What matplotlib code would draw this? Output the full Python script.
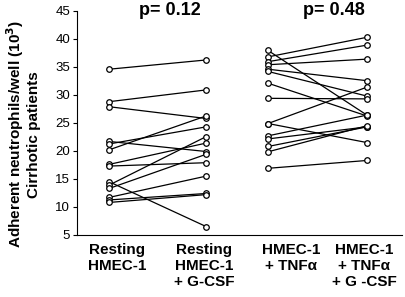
import matplotlib
matplotlib.use("Agg")
import matplotlib.pyplot as plt

plt.rcParams['font.family'] = ['Liberation Sans', 'DejaVu Sans']

# paired values per patient
resting = [34.6, 28.8, 27.9, 21.7, 21.25, 20.2, 17.6, 17.3, 14.5, 13.9, 13.3, 11.7, 11.25, 10.8]
resting_gcsf = [36.25, 30.9, 25.8, 19.9, 24.3, 26.25, 21.4, 17.9, 6.5, 22.55, 19.4, 15.5, 12.4, 12.2]

tnf = [37.95, 36.8, 35.95, 35.4, 34.6, 34.2, 32.1, 29.4, 24.9, 24.9, 22.7, 22.15, 20.8, 19.85, 16.9]
tnf_gcsf = [26.4, 40.3, 38.9, 36.4, 32.55, 29.8, 26.25, 29.3, 31.4, 21.5, 26.4, 24.3, 24.3, 24.5, 18.3]

p_values = ["p= 0.12", "p= 0.48"]
group_labels = ["Resting\nHMEC-1", "Resting\nHMEC-1\n+ G-CSF", "HMEC-1\n+ TNF\u03b1", "HMEC-1\n+ TNF\u03b1\n+ G -CSF"]
yticks = [5, 10, 15, 20, 25, 30, 35, 40, 45]

# x positions of the four columns (axes units 0..3.25)
xpos = [0.32, 1.29, 1.91, 2.90]
label_x = [0.40, 1.27, 2.14, 2.87]

fig = plt.figure(figsize=(4.06, 2.97), dpi=100)
ax = fig.add_axes([0.19, 0.209, 0.80, 0.754])

for a, b in zip(resting, resting_gcsf):
    ax.plot([xpos[0], xpos[1]], [a, b], '-o', color='k', lw=0.9,
            markersize=4.0, markerfacecolor='white', markeredgewidth=0.9)
for a, b in zip(tnf, tnf_gcsf):
    ax.plot([xpos[2], xpos[3]], [a, b], '-o', color='k', lw=0.9,
            markersize=4.0, markerfacecolor='white', markeredgewidth=0.9)

ax.set_xlim(0, 3.25)
ax.set_ylim(5, 45)
ax.set_yticks(yticks)
ax.set_xticks([])
ax.tick_params(axis='y', labelsize=9.5, length=3, width=0.8, pad=2)
ax.spines['top'].set_visible(False)
ax.spines['right'].set_visible(False)
ax.spines['left'].set_linewidth(0.8)
ax.spines['bottom'].set_linewidth(0.8)

# p values above each pair
ax.text((xpos[0] + xpos[1]) / 2 + 0.12, 45, p_values[0], ha='center', va='center',
        fontsize=13, fontweight='bold')
ax.text((xpos[2] + xpos[3]) / 2 + 0.16, 45, p_values[1], ha='center', va='center',
        fontsize=13, fontweight='bold')

for x, lab in zip(label_x, group_labels):
    ax.text(x, -0.035, lab, transform=ax.get_xaxis_transform(), ha='center', va='top',
            fontsize=11, fontweight='bold', linespacing=1.2)

ax.set_ylabel("Adherent neutrophils/well (10$^{\\mathbf{3}}$)\nCirrhotic patients",
              fontsize=11, fontweight='bold', linespacing=1.1)
ax.yaxis.set_label_coords(-0.11, 0.45)

fig.savefig("out.png", dpi=100)
